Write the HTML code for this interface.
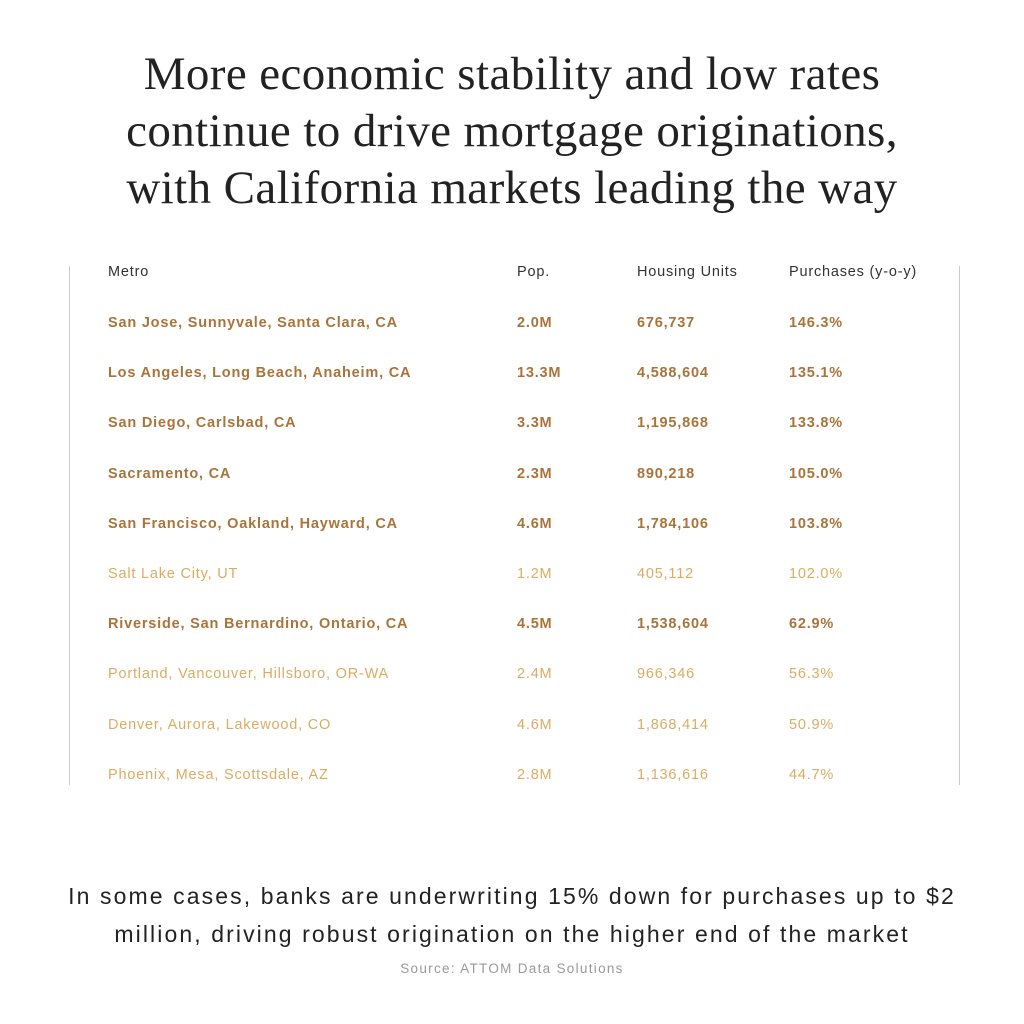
<!DOCTYPE html>
<html><head><style>
body{margin:0;width:1024px;height:1024px;background:#fff;position:relative;font-family:"Liberation Sans",sans-serif;overflow:hidden}
.t{position:absolute;left:0;width:1024px;text-align:center;font-family:"Liberation Serif",serif;font-size:47px;color:#222;line-height:57px;top:46px;letter-spacing:0.4px}
.c{position:absolute;font-size:14.5px;white-space:nowrap;transform:translateY(-50%);letter-spacing:0.8px}
.h{color:#333}
.b{color:#a9743a;font-weight:bold}
.l{color:#dcab62}
.v{position:absolute;top:266px;width:1px;height:519px;background:#ccc}
.f{position:absolute;left:0;width:1024px;text-align:center;font-size:23px;color:#222;line-height:38px;top:877px;letter-spacing:2.1px}
.s{position:absolute;left:0;width:1024px;text-align:center;font-size:13.5px;color:#999;top:961px;letter-spacing:1.3px}
</style></head><body>
<div class="t">More economic stability and low rates<br>continue to drive mortgage originations,<br>with California markets leading the way</div>
<div class="v" style="left:69px"></div><div class="v" style="left:959px"></div>
<div class="c h" style="left:108px;top:272px">Metro</div>
<div class="c h" style="left:517px;top:272px">Pop.</div>
<div class="c h" style="left:637px;top:272px">Housing Units</div>
<div class="c h" style="left:789px;top:272px">Purchases (y-o-y)</div>
<div id="r"></div>
<script>
const d=[["b","San Jose, Sunnyvale, Santa Clara, CA","2.0M","676,737","146.3%"],
["b","Los Angeles, Long Beach, Anaheim, CA","13.3M","4,588,604","135.1%"],
["b","San Diego, Carlsbad, CA","3.3M","1,195,868","133.8%"],
["b","Sacramento, CA","2.3M","890,218","105.0%"],
["b","San Francisco, Oakland, Hayward, CA","4.6M","1,784,106","103.8%"],
["l","Salt Lake City, UT","1.2M","405,112","102.0%"],
["b","Riverside, San Bernardino, Ontario, CA","4.5M","1,538,604","62.9%"],
["l","Portland, Vancouver, Hillsboro, OR-WA","2.4M","966,346","56.3%"],
["l","Denver, Aurora, Lakewood, CO","4.6M","1,868,414","50.9%"],
["l","Phoenix, Mesa, Scottsdale, AZ","2.8M","1,136,616","44.7%"]];
const xs=[108,517,637,789];let h="";
d.forEach((r,i)=>{const y=323+50.2*i;for(let j=0;j<4;j++)h+=`<div class="c ${r[0]}" style="left:${xs[j]}px;top:${y}px">${r[j+1]}</div>`});
document.getElementById("r").innerHTML=h;
</script>
<div class="f">In some cases, banks are underwriting 15% down for purchases up to $2<br>million, driving robust origination on the higher end of the market</div>
<div class="s">Source: ATTOM Data Solutions</div>
</body></html>
